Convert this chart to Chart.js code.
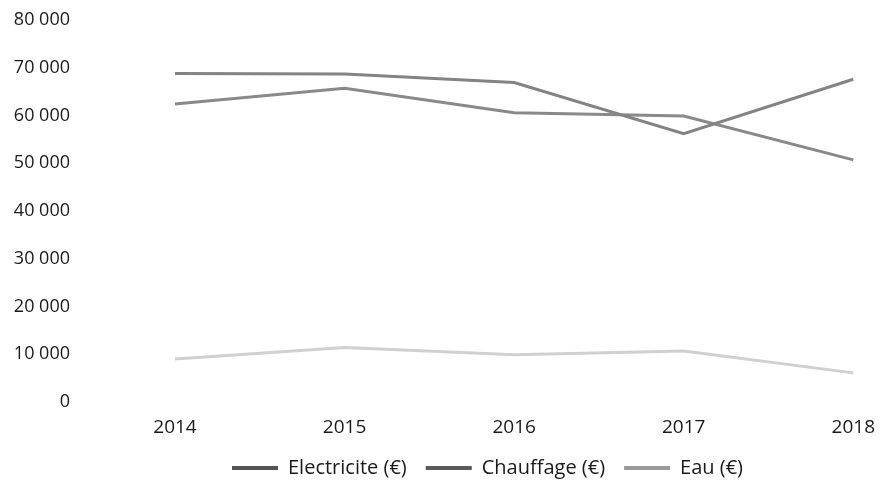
<!DOCTYPE html>
<html>
<head>
<meta charset="utf-8">
<script src="https://cdn.jsdelivr.net/npm/chart.js@4"></script>
<style>
  html, body { margin: 0; padding: 0; background: #ffffff; }
  #wrap { width: 889px; height: 490px; }
</style>
</head>
<body>
<div id="wrap"><canvas id="c" width="889" height="490"></canvas></div>
<script>
// Annual costs per year
const years = ['2014', '2015', '2016', '2017', '2018'];
const electricite = [68800, 68700, 66900, 56200, 67600];
const chauffage = [62400, 65700, 60600, 59900, 50700];
const eau = [9000, 11400, 9900, 10700, 6100];
const yTicks = [0, 10000, 20000, 30000, 40000, 50000, 60000, 70000, 80000];

// thousands separated by a space
const fmt = v => String(v).replace(/\B(?=(\d{3})+(?!\d))/g, ' ');

const FONT = '"Open Sans", "DejaVu Sans", sans-serif';
const legendSwatch = ['#555555', '#5a5a5a', '#9a9a9a'];

// nudge the bottom legend to sit under the plot rather than the full canvas
const legendShift = {
  id: 'legendShift',
  afterLayout(chart) {
    const lg = chart.legend;
    if (lg) { lg.left += 54; lg.right += 54; }
  }
};

new Chart(document.getElementById('c'), {
  type: 'line',
  data: {
    labels: years,
    datasets: [
      { label: 'Electricite (€)', data: electricite, borderColor: '#838383', borderWidth: 3 },
      { label: 'Chauffage (€)', data: chauffage, borderColor: '#898989', borderWidth: 3 },
      { label: 'Eau (€)', data: eau, borderColor: '#d0d0d0', borderWidth: 3 }
    ]
  },
  plugins: [legendShift],
  options: {
    responsive: false,
    animation: false,
    layout: { padding: { left: 0, right: 22, top: 20, bottom: 2 } },
    elements: { point: { radius: 0 }, line: { tension: 0 } },
    scales: {
      x: {
        offset: false,
        grid: { display: false, drawTicks: false },
        border: { display: false },
        ticks: { color: '#1a1a1a', font: { family: FONT, size: 19 }, padding: 14, maxRotation: 0 },
        afterFit: s => { s.height = 37; }
      },
      y: {
        min: 0, max: 80000,
        afterBuildTicks: s => { s.ticks = yTicks.map(v => ({ value: v })); },
        afterFit: s => { s.width = 175; s.paddingTop = 0; s.paddingBottom = 0; },
        grid: { display: false, drawTicks: false },
        border: { display: false },
        ticks: { color: '#1a1a1a', font: { family: FONT, size: 18 }, padding: 105, callback: v => fmt(v) }
      }
    },
    plugins: {
      tooltip: { enabled: false },
      legend: {
        position: 'bottom',
        labels: {
          color: '#1a1a1a',
          font: { family: FONT, size: 20 },
          boxWidth: 46,
          boxHeight: 4,
          padding: 19,
          generateLabels: chart => Chart.defaults.plugins.legend.labels.generateLabels(chart).map((item, i) => ({
            ...item, fillStyle: legendSwatch[i], strokeStyle: legendSwatch[i], lineWidth: 0
          }))
        }
      }
    }
  }
});
</script>
</body>
</html>
